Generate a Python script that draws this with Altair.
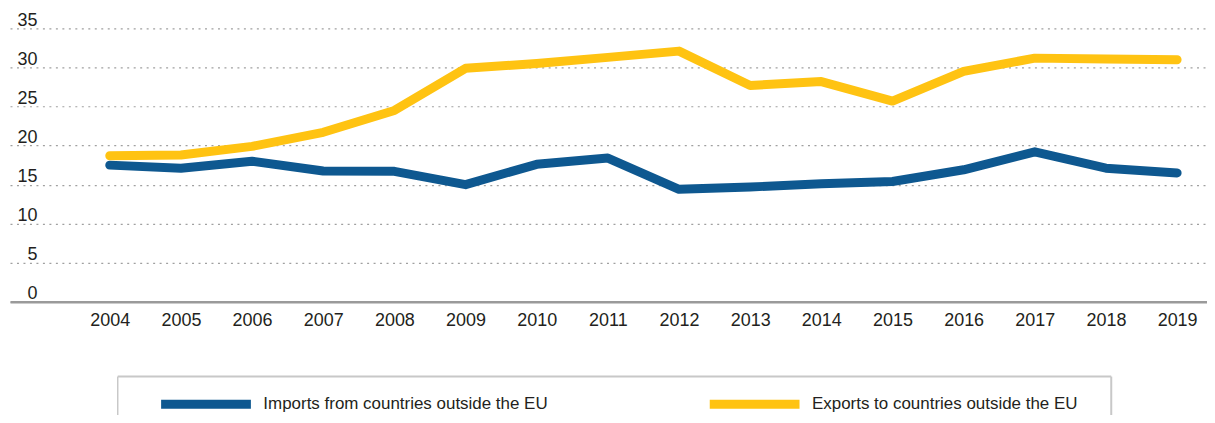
import altair as alt
import pandas as pd

years = list(range(2004, 2020))
imports = [17.5, 17.1, 18.0, 16.75, 16.7, 15.0, 17.6, 18.4, 14.4, 14.7, 15.1, 15.4, 16.9, 19.2, 17.1, 16.5]
exports = [18.7, 18.8, 19.9, 21.7, 24.5, 29.9, 30.5, 31.3, 32.1, 27.7, 28.2, 25.7, 29.5, 31.2, 31.1, 31.0]
series_names = ["Imports from countries outside the EU", "Exports to countries outside the EU"]
series_colors = ["#0E5890", "#FFC312"]
y_ticks = [0, 5, 10, 15, 20, 25, 30, 35]

rows = []
for y, v in zip(years, imports):
    rows.append({"year": y, "value": v, "series": series_names[0]})
for y, v in zip(years, exports):
    rows.append({"year": y, "value": v, "series": series_names[1]})
df = pd.DataFrame(rows)

FONT = "Liberation Sans, Arial, sans-serif"
FS = 18
LFS = 17

lines = alt.Chart(df).mark_line(strokeWidth=9, strokeCap="round", strokeJoin="round").encode(
    x=alt.X("year:Q",
            scale=alt.Scale(domain=[2002.598, 2019.42], nice=False, zero=False),
            axis=alt.Axis(values=years, format="d", title=None, grid=False, ticks=False,
                          domain=True, domainColor="#9a9a9a", domainWidth=2.5,
                          labelPadding=10, labelFontSize=FS, labelFont=FONT,
                          labelColor="#231F20")),
    y=alt.Y("value:Q",
            scale=alt.Scale(domain=[0, 35], nice=False),
            axis=alt.Axis(values=y_ticks, title=None, domain=False, ticks=False,
                          grid=True, gridColor="#a0a0a0", gridDash=[2, 4.5], gridWidth=1.2,
                          labelAlign="right", labelBaseline="alphabetic",
                          labelPadding=-27, labelOffset=-3,
                          labelFontSize=FS, labelFont=FONT, labelColor="#231F20")),
    color=alt.Color("series:N",
                    scale=alt.Scale(domain=series_names, range=series_colors),
                    sort=series_names,
                    legend=alt.Legend(orient="none", legendX=147, legendY=327,
                                      direction="horizontal", title=None,
                                      symbolType="stroke", symbolSize=8100,
                                      symbolStrokeWidth=9, labelFontSize=LFS,
                                      labelFont=FONT, labelColor="#231F20",
                                      labelOffset=8, columnPadding=143,
                                      labelLimit=400, padding=0)),
    order=alt.Order("series:N", sort="descending"),
)

box_top = alt.Chart().mark_rule(color="#c8c8c8", strokeWidth=2).encode(
    x=alt.value(108), x2=alt.value(1104), y=alt.value(349))
box_left = alt.Chart().mark_rule(color="#c8c8c8", strokeWidth=1.5).encode(
    x=alt.value(108), y=alt.value(349), y2=alt.value(420))
box_right = alt.Chart().mark_rule(color="#c8c8c8", strokeWidth=2).encode(
    x=alt.value(1104), y=alt.value(349), y2=alt.value(420))

chart = alt.layer(box_top, box_left, box_right, lines).properties(
    width=1200, height=274,
    autosize=alt.AutoSizeParams(type="none"),
    padding={"left": 2, "top": 20, "right": 0, "bottom": 113},
).configure_view(stroke=None)

chart.save("out.html", embed_options={"renderer": "svg", "actions": False})
